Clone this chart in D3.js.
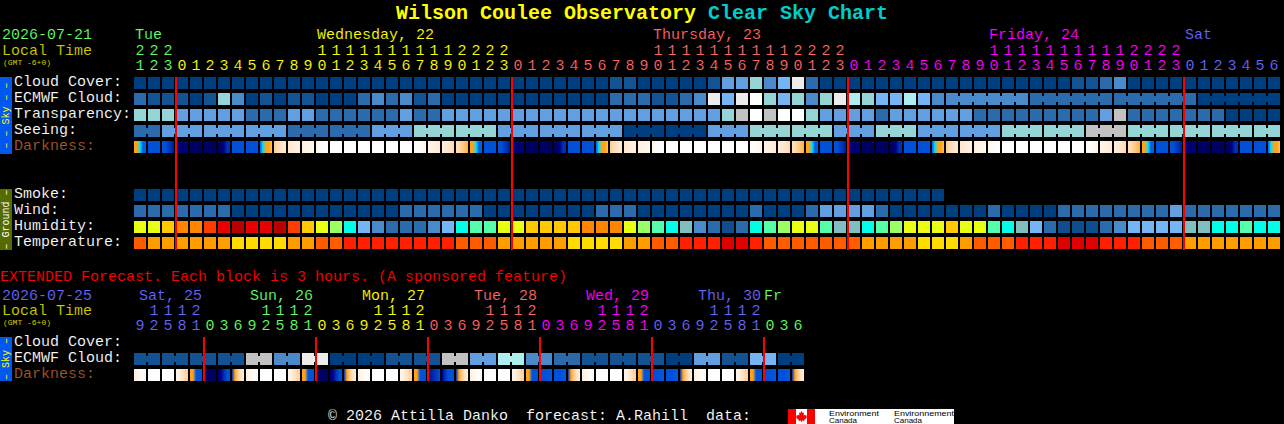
<!DOCTYPE html>
<html>
<head>
<meta charset="utf-8">
<script src="https://cdn.jsdelivr.net/npm/d3@7/dist/d3.min.js"></script>
<style>
html,body{margin:0;padding:0;background:#000;overflow:hidden}
svg{display:block}
text{font-family:"Liberation Mono",monospace;font-size:15px;white-space:pre}
text.thin{stroke:#000;stroke-width:.12px}
</style>
</head>
<body>
<svg id="c" width="1284" height="424"></svg>
<script>
// ---------- data ----------
const titleMain = "Wilson Coulee Observatory";
const titleAccent = "Clear Sky Chart";
const startDate = "2026-07-21", extDate = "2026-07-25";
const hourly = [21,22,23,0,1,2,3,4,5,6,7,8,9,10,11,12,13,14,15,16,17,18,19,20,21,22,23,0,1,2,3,4,5,6,7,8,9,10,11,12,13,14,15,16,17,18,19,20,21,22,23,0,1,2,3,4,5,6,7,8,9,10,11,12,13,14,15,16,17,18,19,20,21,22,23,0,1,2,3,4,5,6];
const hourlyDays = [0,0,0,1,1,1,1,1,1,1,1,1,1,1,1,1,1,1,1,1,1,1,1,1,1,1,1,2,2,2,2,2,2,2,2,2,2,2,2,2,2,2,2,2,2,2,2,2,2,2,2,3,3,3,3,3,3,3,3,3,3,3,3,3,3,3,3,3,3,3,3,3,3,3,3,4,4,4,4,4,4,4];
const dayColors = ["#66ff66","#ffff00","#ff6666","#ff00ff","#6666ff"];
const dayLabels = [["Tue",0,0],["Wednesday, 22",13,1],["Thursday, 23",37,2],["Friday, 24",61,3],["Sat",75,4]];
const midnights = [3,27,51,75];

const cloudLevels = ["#003f7f","#135393","#2b6bab","#4a8aca","#619fe1","#75b5f5","#96d5d5","#aeeeee","#ffffff","#ececec","#c2c2c2"];
const humidLevels = ["#0e4e8e","#2b6bab","#4a8aca","#75b5f5","#80bfbf","#00ffe6","#55ffaa","#99ff66","#e8ff14","#ffc800","#ff8400","#ff3c00","#e60000","#b80000"];
const tempLevels = ["#e00000","#ff2000","#ff5c00","#ff9d00","#ffdc00"];
const darkStops = ["#ffffff","#fff4e8","#ffe6cc","#ffcc90","#ffa418","#00e0ff","#0060e0","#0050d8","#0030b0","#000088","#000060"];

const cloudCover = [0,0,0,0,0,0,0,0,0,0,0,0,0,0,0,0,0,0,0,0,0,0,0,0,0,0,0,0,0,0,0,0,0,0,1,1,0,0,0,0,0,1,4,4,6,3,5,9,2,0,0,0,0,0,0,0,0,0,0,0,0,0,0,0,0,0,0,1,1,2,3,0,0,0,0,0,0,0,0,0,0,0];
const ecmwf = [2,1,1,1,0,1,6,3,0,1,0,1,1,0,0,0,2,3,2,3,1,2,0,0,0,0,0,0,0,0,0,0,0,0,2,2,2,1,1,2,3,9,5,9,8,6,5,6,3,6,9,7,6,5,5,7,5,3,3,3,3,3,3,3,2,2,2,2,2,2,2,2,2,2,2,2,0,0,0,0,0,0];
const transparency = [6,6,6,4,4,4,4,4,2,2,2,4,4,2,2,2,2,2,2,4,2,2,4,4,4,4,4,4,4,4,4,4,4,4,4,4,4,4,4,4,4,4,6,10,8,10,8,8,6,4,4,4,4,2,4,4,4,4,4,4,2,2,2,2,2,2,2,2,2,4,10,2,2,2,2,2,2,2,0,0,0,0];
const seeing = [2,2,4,4,4,4,4,4,4,4,4,2,2,2,2,2,2,4,4,4,6,6,6,6,6,6,4,4,4,4,4,4,4,4,4,0,0,0,0,0,0,4,4,4,6,6,6,6,6,6,4,4,4,6,6,6,4,4,4,4,4,4,6,6,6,6,6,6,10,10,10,6,6,6,6,6,6,6,6,6,6,6];
const darkness = "abcdeefbbghijkwwwwwwlmnoabcdeefbbghijkwwwwwwlmnoabcdeefbbghijkwwwwwwlmnoabcdeefbbg".split("");
const smoke = [0,0,0,0,0,0,0,0,0,0,0,0,0,0,0,0,0,0,0,0,0,0,0,0,0,0,0,0,0,0,0,0,0,0,0,0,0,0,0,0,0,0,0,0,0,0,0,0,0,0,0,0,0,0,0,0,0,0];
const wind = [2,2,2,2,2,2,2,0,0,0,0,0,0,0,0,0,0,0,0,2,2,2,2,2,2,0,0,0,0,0,0,0,0,2,2,2,0,0,0,0,0,0,0,0,2,0,0,0,2,4,4,4,4,2,0,0,0,0,0,0,0,2,0,0,0,0,2,2,2,2,2,2,2,2,4,2,2,2,2,2,2,2];
const humidity = [8,8,9,10,10,11,12,13,12,12,13,11,9,8,7,5,3,2,1,1,1,2,3,5,6,6,8,8,9,9,9,9,10,10,10,8,7,6,5,4,2,1,0,1,5,6,7,8,8,6,4,4,5,6,7,8,8,8,9,8,8,6,5,4,3,1,0,0,0,1,2,3,3,3,3,4,4,5,5,6,5,5];
const temperature = [2,3,3,3,3,3,3,4,4,4,4,3,3,2,2,1,1,1,1,1,1,1,1,2,2,2,3,3,3,3,3,4,4,4,4,3,3,2,2,1,1,1,0,0,1,2,2,2,2,2,2,2,3,3,3,3,4,4,4,3,2,2,2,1,1,1,0,0,0,1,1,1,2,2,2,3,3,3,3,3,3,3];

const extHours = [9,12,15,18,21,0,3,6,9,12,15,18,21,0,3,6,9,12,15,18,21,0,3,6,9,12,15,18,21,0,3,6,9,12,15,18,21,0,3,6,9,12,15,18,21,0,3,6];
const extDays = [4,4,4,4,4,0,0,0,0,0,0,0,0,1,1,1,1,1,1,1,1,2,2,2,2,2,2,2,2,3,3,3,3,3,3,3,3,4,4,4,4,4,4,4,4,0,0,0];
const extDayLabels = [["Sat, 25",139,4],["Sun, 26",250,0],["Mon, 27",362,1],["Tue, 28",474,2],["Wed, 29",586,3],["Thu, 30",698,4],["Fr",764,0]];
const extMidnights = [5,13,21,29,37,45];
const extEcmwf = [1,1,1,1,10,3,9,0,0,1,1,10,4,7,3,2,1,1,1,0,4,1,5,0];
const extDarkness = "qwwrstuvqwwrstuvqwwrsTUvqwwrsxxvqwwrsxxvqwwrsxxv".slice(0,48).split("");

// Darkness cell ramps: level at 0, 25, 50, 75, 100% across a block
const darkRamps = {
  a:[4,4,5,6,6], b:[7,7,7,7,7], c:[7,7,7.5,8,8.6], d:[9,9.5,9.5,9.5,9.5], e:[10,10,10,10,10],
  f:[10,10,9,8,8], g:[6,5,4,4,3.3], h:[3,2.6,2.2,2,1.8], i:[2,1.7,1.5,1.3,1.2], j:[1.5,1.1,1,.8,.6],
  k:[1,.5,.3,.1,0], w:[0,0,0,0,0], l:[0,.2,.4,.6,1], m:[1,1.1,1.3,1.5,1.7], n:[1.5,1.7,2,2.2,2.5],
  o:[2.2,2.5,3,3.3,3.7], q:[1.3,1,.5,.3,.6], r:[.8,1.3,2,2.5,3], s:[4,4,6.6,7,7], t:[8.7,10,10,10,10],
  u:[10,9,8,7,7], v:[8,4,3,2,1.5], T:[8,8.5,8,7.5,7], U:[9,8,7,7,7], x:[7,7,7,6.5,6.5]
};

// ---------- scales ----------
const svg = d3.select("#c");
const x = d3.scaleLinear().domain([0,1]).range([134,148]);
const cellW = x(1)-x(0)-2, cellH = 12;
const cloudColor = d3.scaleOrdinal(d3.range(cloudLevels.length), cloudLevels);
const humidColor = d3.scaleOrdinal(d3.range(humidLevels.length), humidLevels);
const tempColor = d3.scaleOrdinal(d3.range(tempLevels.length), tempLevels);
const darkColor = d3.scaleLinear().domain(d3.range(darkStops.length)).range(darkStops).interpolate(d3.interpolateRgb);
const rowY = d3.scaleOrdinal(
  ["cloud","ecmwf","trans","seeing","dark","smoke","wind","humid","temp","xcloud","xecmwf","xdark"],
  [77,93,109,125,141,189,205,221,237,337,353,369]);

const label = (t,px,py,fill,opt={}) => {
  const s = svg.append("text").attr("class","thin").attr("x",px).attr("y",py).attr("fill",fill).text(t);
  if(opt.size) s.style("font-size",opt.size+"px").style("stroke-width","0");
  return s;
};

function linked(i,start,size){ return size>0 && i>=start && (i-start+1)%size!==0; }

function flatRow(key,vals,color,start=0,size=0){
  const g = svg.append("g");
  g.selectAll("rect.cell").data(vals).join("rect").attr("class","cell")
    .attr("x",(d,i)=>x(i)).attr("y",rowY(key)).attr("width",cellW).attr("height",cellH)
    .attr("fill",d=>color(d)).attr("shape-rendering","crispEdges");
  g.selectAll("rect.link").data(vals.map((d,i)=>({d,i})).filter(o=>o.i<vals.length-1&&linked(o.i,start,size)))
    .join("rect").attr("class","link")
    .attr("x",o=>x(o.i)+cellW).attr("y",rowY(key)+3).attr("width",2).attr("height",cellH-6)
    .attr("fill",o=>color(o.d)).attr("shape-rendering","crispEdges");
}

const defs = svg.append("defs");
function darkRow(key,codes){
  Object.keys(darkRamps).forEach(k=>{
    if(defs.select("#ramp"+k).empty()){
      const lg = defs.append("linearGradient").attr("id","ramp"+k);
      darkRamps[k].forEach((v,j)=>lg.append("stop").attr("offset",j/4).attr("stop-color",darkColor(v)));
    }
  });
  svg.append("g").selectAll("rect").data(codes).join("rect")
    .attr("x",(d,i)=>x(i)).attr("y",rowY(key)).attr("width",cellW).attr("height",cellH)
    .attr("fill",d=>`url(#ramp${d})`).attr("shape-rendering","crispEdges");
}

// ---------- title ----------
const t = svg.append("text").attr("x",396).attr("y",19).style("font-size","20px").style("font-weight","bold");
t.append("tspan").attr("fill","#ffff00").text(titleMain+" ");
t.append("tspan").attr("fill","#00cccc").text(titleAccent);

// ---------- side bars ----------
function sideBar(y0,y1,fill,txt,tcol){
  svg.append("rect").attr("x",0).attr("y",y0).attr("width",12).attr("height",y1-y0).attr("fill",fill);
  const cy=(y0+y1)/2;
  svg.append("text").attr("transform",`translate(9,${cy}) rotate(-90)`).attr("text-anchor","middle")
    .attr("fill",tcol).style("font-size","10px").text(txt);
}
sideBar(77,154,"#0058f0","– – Sky – –","#ffff00");
sideBar(189,250,"#556b00","– Ground –","#ffffff");
sideBar(337,381,"#0058f0","– Sky –","#ffff00");

// ---------- main header ----------
label(startDate,2,39,dayColors[0]);
label("Local Time",2,55,"#cccc00");
label("(GMT -6+0)",3,65,"#cccc00",{size:8});
dayLabels.forEach(([s,i,c])=>label(s,x(i)+1,39,dayColors[c]));
svg.append("g").selectAll("text").data(hourly).join("text").attr("class","thin")
  .attr("x",(d,i)=>x(i)+cellW/2).attr("y",70).attr("text-anchor","middle")
  .attr("fill",(d,i)=>dayColors[hourlyDays[i]]).text(d=>d%10);
svg.append("g").selectAll("text").data(hourly.map((h,i)=>({h,i})).filter(o=>o.h>=10)).join("text").attr("class","thin")
  .attr("x",o=>x(o.i)+cellW/2).attr("y",55).attr("text-anchor","middle")
  .attr("fill",o=>dayColors[hourlyDays[o.i]]).text(o=>Math.floor(o.h/10));

// ---------- row labels ----------
[["Cloud Cover:",86],["ECMWF Cloud:",102],["Transparency:",118],["Seeing:",134],["Darkness:",150,"#a0582d"],
 ["Smoke:",198],["Wind:",214],["Humidity:",230],["Temperature:",246],
 ["Cloud Cover:",346],["ECMWF Cloud:",362],["Darkness:",378,"#a0582d"]]
 .forEach(([s,py,c])=>label(s,14,py,c||"#ffffff"));

// ---------- rows ----------
flatRow("cloud",cloudCover,cloudColor);
flatRow("ecmwf",ecmwf,cloudColor,58,6);
flatRow("trans",transparency,cloudColor);
flatRow("seeing",seeing,cloudColor,-1,3);
darkRow("dark",darkness);
flatRow("smoke",smoke,cloudColor);
flatRow("wind",wind,cloudColor);
flatRow("humid",humidity,humidColor);
flatRow("temp",temperature,tempColor);

// midnight lines
svg.append("g").selectAll("rect").data(midnights).join("rect")
  .attr("x",d=>x(d)-1).attr("y",77).attr("width",2).attr("height",173).attr("fill","#ff0000");

// ---------- extended ----------
label("EXTENDED Forecast. Each block is 3 hours. (A sponsored feature)",0,281,"#ff0000");
label(extDate,2,300,dayColors[4]);
label("Local Time",2,315,"#cccc00");
label("(GMT -6+0)",3,325,"#cccc00",{size:8});
extDayLabels.forEach(([s,px,c])=>label(s,px,300,dayColors[c]));
svg.append("g").selectAll("text").data(extHours).join("text").attr("class","thin")
  .attr("x",(d,i)=>x(i)+cellW/2).attr("y",330).attr("text-anchor","middle")
  .attr("fill",(d,i)=>dayColors[extDays[i]]).text(d=>d%10);
svg.append("g").selectAll("text").data(extHours.map((h,i)=>({h,i})).filter(o=>o.h>=10)).join("text").attr("class","thin")
  .attr("x",o=>x(o.i)+cellW/2).attr("y",315).attr("text-anchor","middle")
  .attr("fill",o=>dayColors[extDays[o.i]]).text(o=>Math.floor(o.h/10));

flatRow("xecmwf",extEcmwf.flatMap(v=>[v,v]),cloudColor,0,2);
darkRow("xdark",extDarkness);
svg.append("g").selectAll("rect").data(extMidnights).join("rect")
  .attr("x",d=>x(d)-1).attr("y",337).attr("width",2).attr("height",44).attr("fill","#ff0000");

// ---------- footer ----------
label("© 2026 Attilla Danko  forecast: A.Rahill  data:",328,420,"#ffffff");
svg.append("rect").attr("x",788).attr("y",409).attr("width",166).attr("height",15).attr("fill","#ffffff");
svg.append("rect").attr("x",788).attr("y",409).attr("width",8).attr("height",15).attr("fill","#ff0000");
svg.append("rect").attr("x",807).attr("y",409).attr("width",8).attr("height",15).attr("fill","#ff0000");
svg.append("path").attr("d","M801.5 411l1.2 2 1.3-.5-.4 3 1.6-1 .4 1.2 1.4-.2-.6 1.7.6.6-2.6 2-.2 1.2-2.3-.4V422h-.8v-1.4l-2.3.4-.2-1.2-2.6-2 .6-.6-.6-1.7 1.4.2.4-1.2 1.6 1-.4-3 1.3.5z").attr("fill","#ff0000");
[["Environment",829,416,50],["Canada",829,423,28],["Environnement",894,416,60],["Canada",894,423,28]]
 .forEach(([s,px,py,w])=>svg.append("text").attr("x",px).attr("y",py).attr("fill","#000000")
   .attr("textLength",w).attr("lengthAdjust","spacingAndGlyphs").style("font-family","'Liberation Sans'").style("font-size","8px").text(s));
</script>
</body>
</html>
